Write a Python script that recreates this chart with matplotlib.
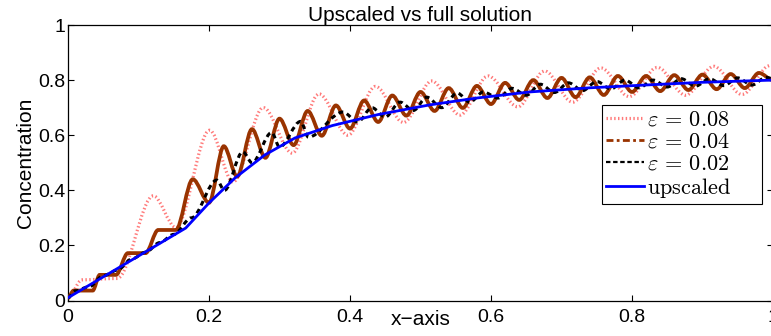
import matplotlib
matplotlib.use("Agg")
import matplotlib.pyplot as plt
from matplotlib.path import Path
from matplotlib.patches import PathPatch
from matplotlib.lines import Line2D

plt.rcParams['font.family'] = ['Liberation Sans', 'DejaVu Sans']
plt.rcParams['mathtext.fontset'] = 'cm'

# upscaled solution
x_up = [0, 0.167, 0.2, 0.237, 0.279, 0.322, 0.375, 0.44, 0.513, 0.58, 0.655, 0.74, 0.818, 0.9, 1.0]
y_up = [0.01, 0.263, 0.354, 0.445, 0.528, 0.59, 0.635, 0.675, 0.71, 0.735, 0.757, 0.772, 0.782, 0.792, 0.80]

# eps = 0.08 (extrema / plateau ends)
x_e08 = [0, 0.02, 0.07, 0.121, 0.153, 0.201, 0.234, 0.277, 0.318, 0.356, 0.397, 0.436, 0.476,
         0.516, 0.556, 0.596, 0.638, 0.676, 0.716, 0.756, 0.796, 0.836, 0.876, 0.916, 0.956, 0.996, 1.0]
y_e08 = [0.01, 0.075, 0.08, 0.38, 0.265, 0.618, 0.43, 0.70, 0.535, 0.75, 0.60, 0.777, 0.646,
         0.797, 0.673, 0.815, 0.703, 0.833, 0.72, 0.844, 0.74, 0.846, 0.745, 0.85, 0.748, 0.853, 0.852]

# eps = 0.04
x_e04 = [0, 0.008, 0.035, 0.045, 0.068, 0.085, 0.11, 0.128, 0.153, 0.177, 0.2, 0.221, 0.24, 0.261,
         0.28, 0.30, 0.32, 0.34, 0.36, 0.38, 0.40, 0.42, 0.44, 0.46, 0.48, 0.50, 0.52, 0.54, 0.56,
         0.58, 0.60, 0.62, 0.64, 0.66, 0.68, 0.70, 0.72, 0.74, 0.76, 0.78, 0.80, 0.82, 0.84, 0.86,
         0.88, 0.90, 0.92, 0.94, 0.96, 0.98, 1.0]
y_e04 = [0.01, 0.036, 0.036, 0.093, 0.093, 0.172, 0.172, 0.256, 0.256, 0.44, 0.355, 0.56, 0.45, 0.622,
         0.518, 0.66, 0.564, 0.688, 0.598, 0.708, 0.624, 0.726, 0.648, 0.744, 0.671, 0.757, 0.688, 0.771, 0.699,
         0.779, 0.713, 0.79, 0.728, 0.80, 0.735, 0.808, 0.738, 0.81, 0.746, 0.815, 0.757, 0.815, 0.76, 0.818,
         0.764, 0.82, 0.767, 0.822, 0.771, 0.826, 0.80]

# eps = 0.02
x_e02 = [0, 0.01, 0.03, 0.05, 0.07, 0.09, 0.11, 0.13, 0.15, 0.175, 0.211, 0.222, 0.248, 0.261, 0.289,
         0.30, 0.33, 0.341, 0.39, 0.411, 0.431, 0.45, 0.471, 0.49, 0.509, 0.53, 0.552, 0.57, 0.589,
         0.61, 0.63, 0.65, 0.67, 0.69, 0.71, 0.73, 0.75, 0.77, 0.79, 0.81, 0.83, 0.85, 0.87, 0.89,
         0.91, 0.93, 0.95, 0.97, 0.99, 1.0]
y_e02 = [0.01, 0.035, 0.05, 0.09, 0.11, 0.15, 0.175, 0.21, 0.24, 0.30, 0.437, 0.40, 0.54, 0.50, 0.61,
         0.557, 0.65, 0.593, 0.684, 0.648, 0.70, 0.666, 0.72, 0.69, 0.738, 0.70, 0.753, 0.72, 0.757,
         0.735, 0.77, 0.745, 0.785, 0.755, 0.79, 0.762, 0.795, 0.768, 0.80, 0.772, 0.80, 0.775, 0.805, 0.778,
         0.805, 0.78, 0.808, 0.782, 0.81, 0.805]

labels = [r'$\varepsilon\,=\,0.08$', r'$\varepsilon\,=\,0.04$', r'$\varepsilon\,=\,0.02$', r'$\mathrm{upscaled}$']


def smooth_path(xs, ys):
    # cubic pieces with flat tangents at every knot (knots are extrema)
    verts = [(xs[0], ys[0])]
    codes = [Path.MOVETO]
    for i in range(1, len(xs)):
        d = (xs[i] - xs[i - 1]) / 3.0
        verts += [(xs[i - 1] + d, ys[i - 1]), (xs[i] - d, ys[i]), (xs[i], ys[i])]
        codes += [Path.CURVE4] * 3
    return Path(verts, codes)


fig = plt.figure(figsize=(7.71, 3.36), dpi=100)
ax = fig.add_axes([68 / 771, 35.5 / 336, 705 / 771, 275.5 / 336])

ax.add_patch(PathPatch(smooth_path(x_e08, y_e08), fill=False, edgecolor='#ff7a7a', lw=2.3,
                       linestyle=(0, (0.45, 0.75)), zorder=2))
ax.add_patch(PathPatch(smooth_path(x_e04, y_e04), fill=False, edgecolor='#993300', lw=2.7, zorder=3))
ax.add_patch(PathPatch(smooth_path(x_e02, y_e02), fill=False, edgecolor='black', lw=2.2,
                       linestyle=(0, (1.6, 1.3)), zorder=4))
ax.plot(x_up, y_up, color='#0000ff', lw=2, zorder=5)

handles = [
    Line2D([], [], color='#ff7a7a', lw=2.3, linestyle=(0, (0.45, 0.75))),
    Line2D([], [], color='#993300', lw=2, linestyle=(0, (2.5, 1.2, 1, 1.2))),
    Line2D([], [], color='black', lw=1.6, linestyle=(0, (2, 1.2))),
    Line2D([], [], color='#0000ff', lw=2),
]
leg = ax.legend(handles, labels, loc='upper left', bbox_to_anchor=(0.757, 0.35, 0.227, 0.36),
                mode='expand', fontsize=16, handlelength=1.7, handletextpad=0.15, borderpad=0.2,
                labelspacing=0.05, fancybox=False, framealpha=1, edgecolor='black', borderaxespad=0)
leg.get_frame().set_linewidth(0.8)

ax.set_xlim(0, 1)
ax.set_ylim(0, 1)
ax.set_xticks([0, 0.2, 0.4, 0.6, 0.8, 1.0])
ax.set_xticklabels(['0', '0.2', '0.4', '0.6', '0.8', '1'])
ax.set_yticks([0, 0.2, 0.4, 0.6, 0.8, 1.0])
ax.set_yticklabels(['0', '0.2', '0.4', '0.6', '0.8', '1'])
ax.tick_params(direction='in', top=True, right=True, length=4, width=0.8, labelsize=14)
ax.tick_params(axis='x', pad=6)
ax.tick_params(axis='y', pad=2)
for s in ax.spines.values():
    s.set_linewidth(0.9)

ax.set_title('Upscaled vs full solution', fontsize=15, pad=3)
ax.set_ylabel('Concentration', fontsize=15, labelpad=2)
ax.set_xlabel('x\u2212axis', fontsize=15)
ax.xaxis.set_label_coords(0.5, -0.035)

fig.savefig('out.png', dpi=100)
